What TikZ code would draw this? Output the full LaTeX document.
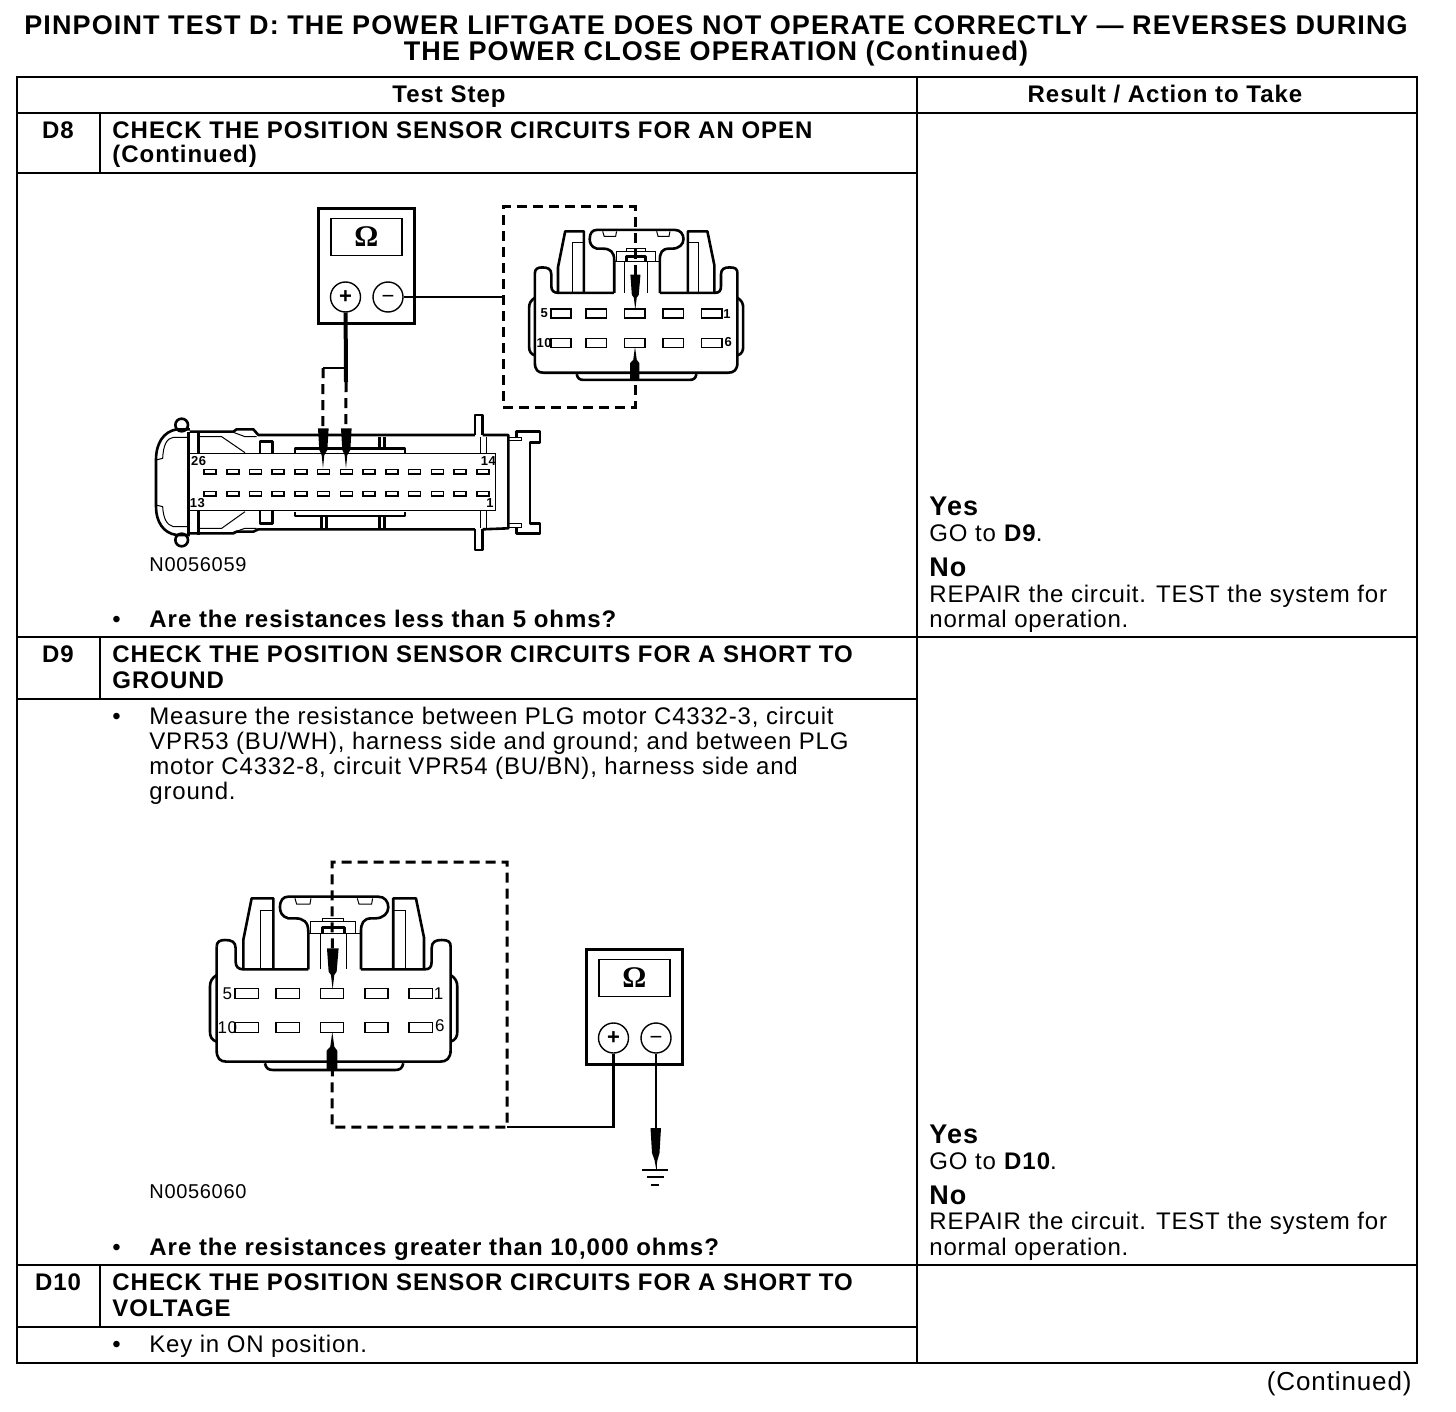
\documentclass[tikz,border=0pt]{standalone}
\usepackage{fontspec}
\setmainfont[LetterSpace=3.4,BoldFeatures={LetterSpace=4.1}]{Liberation Sans}
\newfontfamily\ohmfont{Liberation Serif}
\usetikzlibrary{positioning}

% Ohmmeter, local origin at its upper left corner
\newcommand{\ohmmeter}[1]{
    \node[meterbox] (#1) at (49.5,59) {};
    \node[meterdisp] (#1disp) at (49.5,30) {\ohmfont\bfseries\fontsize{15}{15}\selectfont Ω};
    \node[terminal] (#1pos) at (28.5,90) {\bfseries +};
    \node[terminal] (#1neg) at (71,90) {−};
}

% PLG motor connector, drawn in the coordinates of the zoomed print
\newcommand{\plgconn}[2]{
    % Body
    \draw[outline] (50,290) .. controls (50,275) and (60,270) .. (75,270) .. controls (95,270) and (107,275) .. (107,295)
        -- (107,335) .. controls (107,350) and (115,358) .. (130,358) -- (325,358);
    \draw[outline] (483,358) -- (675,358) .. controls (690,358) and (695,350) .. (695,335) -- (695,295)
        .. controls (695,275) and (707,270) .. (725,270) .. controls (745,270) and (752,275) .. (752,290)
        -- (752,600) .. controls (752,625) and (740,635) .. (720,635) -- (80,635)
        .. controls (60,635) and (50,625) .. (50,600) -- (50,290);
    % Side and bottom tabs
    \draw[outline] (50,375) .. controls (35,385) and (30,395) .. (30,410) -- (30,545) .. controls (30,560) and (35,570) .. (50,575);
    \draw[outline] (752,375) .. controls (767,385) and (772,395) .. (772,410) -- (772,545) .. controls (772,560) and (767,570) .. (752,575);
    \draw[outline] (195,640) .. controls (198,655) and (205,660) .. (220,660) -- (585,660) .. controls (600,660) and (607,655) .. (610,640);
    % Clips
    \draw[outline] (130,358) -- (130,270) -- (155,145) -- (220,145) -- (220,358);
    \draw[thinline] (182,358) -- (182,182) -- (220,182);
    \draw[outline] (580,358) -- (580,145) -- (648,145) -- (672,262) -- (672,358);
    \draw[thinline] (618,358) -- (618,182) -- (580,182);
    % Latch
    \draw[outline] (325,358) -- (325,245) .. controls (325,215) and (310,205) .. (285,205) -- (265,205)
        .. controls (245,200) and (240,185) .. (240,172) .. controls (240,150) and (250,140) .. (265,140)
        -- (535,140) .. controls (555,140) and (565,155) .. (565,172) .. controls (565,190) and (550,205) .. (525,205)
        -- (515,205) .. controls (490,205) and (483,220) .. (483,245) -- (483,358);
    \draw[thinline] (285,145) -- (290,162) -- (330,162) -- (333,145);
    \draw[thinline] (472,145) -- (477,162) -- (515,162) -- (518,145);
    \draw[thinline] (332,250) rectangle (468,215);
    \draw[thinline] (367,215) -- (367,205) -- (432,205) -- (432,215);
    \draw[outline] (367,250) -- (367,232) -- (433,232) -- (433,250);
    \draw[thinline] (362,250) -- (362,358) (440,250) -- (440,358);
    \draw[thinline] (328,250) -- (480,250);
    % Terminals
    \foreach \x in {140,263,396,530,663}
        \foreach \y in {430,532}
            \draw[slot] (\x-35,\y-15) rectangle (\x+35,\y+15);
    \node[pinlabel,font=#2] (#1five) at (82,430) {5};
    \node[pinlabel,font=#2] (#1one) at (716,430) {1};
    \node[pinlabel,font=#2] (#1ten) at (82,533) {10};
    \node[pinlabel,font=#2] (#1six) at (720,528) {6};
    % Probes
    \fill (381,295) -- (416,295) -- (410,365) -- (403,375) -- (398,418) -- (393,375) -- (386,365) -- cycle;
    \fill (397,545) -- (403,590) -- (412,602) -- (412,662) -- (380,662) -- (380,602) -- (391,590) -- cycle;
    \coordinate (#1top) at (397,295);
    \coordinate (#1bot) at (397,660);
}

\begin{document}
\begin{tikzpicture}[x=.5pt,y=-.5pt,
    meterbox/.style={draw,line width=1.5pt,minimum width=48pt,minimum height=57.5pt,inner sep=0pt},
    meterdisp/.style={draw,line width=.8pt,minimum width=35.5pt,minimum height=18.5pt,inner sep=0pt},
    terminal/.style={circle,draw,line width=.7pt,minimum size=15pt,inner sep=0pt,text height=.6em,text depth=0pt,font=\fontsize{11}{11}\selectfont},
    outline/.style={line width=1.3pt,line join=round},
    thinline/.style={line width=.5pt},
    slot/.style={line width=.8pt},
    wire/.style={line width=1.4pt},
    heavywire/.style={line width=2pt},
    dashwire/.style={line width=1.5pt,dash pattern=on 5pt off 3pt},
    pinlabel/.style={inner sep=0pt},
    tblline/.style={line width=1pt},
    txt/.style={anchor=base west,inner sep=0pt,font=\fontsize{12}{12}\selectfont},
    boldtxt/.style={txt,font=\bfseries\fontsize{12}{12}\selectfont},
    head/.style={anchor=base,inner sep=0pt,font=\bfseries\fontsize{12}{12}\selectfont},
    titletxt/.style={anchor=base,inner sep=0pt,font=\bfseries\fontsize{13.5}{13.5}\selectfont\addfontfeature{LetterSpace=3.2}},
    yesno/.style={anchor=base west,inner sep=0pt,font=\bfseries\fontsize{13.5}{13.5}\selectfont}]
    \useasboundingbox (0,0) rectangle (1456,1412);

    % Title
    \node[titletxt] (title1) at (716,35) {PINPOINT TEST D: THE POWER LIFTGATE DOES NOT OPERATE CORRECTLY — REVERSES DURING};
    \node[titletxt] (title2) at (716,61) {THE POWER CLOSE OPERATION (Continued)};

    % Table rules
    \draw[tblline] (17,77) rectangle (1417,1363);
    \draw[tblline] (917,77) -- (917,1363);
    \draw[tblline] (17,113) -- (1417,113);
    \draw[tblline] (17,637) -- (1417,637);
    \draw[tblline] (17,1265) -- (1417,1265);
    \draw[tblline] (17,173) -- (917,173);
    \draw[tblline] (17,699) -- (917,699);
    \draw[tblline] (17,1327) -- (917,1327);
    \draw[tblline] (100,113) -- (100,173);
    \draw[tblline] (100,637) -- (100,699);
    \draw[tblline] (100,1265) -- (100,1327);

    % Header
    \node[head] (hstep) at (449,103) {Test Step};
    \node[head] (hres) at (1165,103) {Result / Action to Take};

    % Step D8
    \node[head] (d8) at (58,139) {D8};
    \node[boldtxt] (d8a) at (112,139) {CHECK THE POSITION SENSOR CIRCUITS FOR AN OPEN};
    \node[boldtxt] (d8b) at (112,163) {(Continued)};
    \node[txt,font=\fontsize{10}{10}\selectfont] (d8id) at (149,571) {N0056059};
    \node[txt] (d8bul) at (112,627) {•};
    \node[boldtxt] (d8q) at (149,627) {Are the resistances less than 5 ohms?};
    \node[yesno] (d8yes) at (929,515) {Yes};
    \node[txt] (d8go) at (929,541) {GO to \textbf{D9}.};
    \node[yesno] (d8no) at (929,576) {No};
    \node[txt] (d8rep) at (929,602) {REPAIR the circuit. TEST the system for};
    \node[txt] (d8norm) at (929,627) {normal operation.};

    % Step D9
    \node[head] (d9) at (58,662) {D9};
    \node[boldtxt] (d9a) at (112,662) {CHECK THE POSITION SENSOR CIRCUITS FOR A SHORT TO};
    \node[boldtxt] (d9b) at (112,688) {GROUND};
    \node[txt] (d9bul) at (112,724) {•};
    \node[txt] (d9m1) at (149,724) {Measure the resistance between PLG motor C4332-3, circuit};
    \node[txt] (d9m2) at (149,749) {VPR53 (BU/WH), harness side and ground; and between PLG};
    \node[txt] (d9m3) at (149,774) {motor C4332-8, circuit VPR54 (BU/BN), harness side and};
    \node[txt] (d9m4) at (149,799) {ground.};
    \node[txt,font=\fontsize{10}{10}\selectfont] (d9id) at (149,1198) {N0056060};
    \node[txt] (d9bulb) at (112,1255) {•};
    \node[boldtxt] (d9q) at (149,1255) {Are the resistances greater than 10,000 ohms?};
    \node[yesno] (d9yes) at (929,1143) {Yes};
    \node[txt] (d9go) at (929,1169) {GO to \textbf{D10}.};
    \node[yesno] (d9no) at (929,1204) {No};
    \node[txt] (d9rep) at (929,1229) {REPAIR the circuit. TEST the system for};
    \node[txt] (d9norm) at (929,1255) {normal operation.};

    % Step D10
    \node[head] (d10) at (58,1290) {D10};
    \node[boldtxt] (d10a) at (112,1290) {CHECK THE POSITION SENSOR CIRCUITS FOR A SHORT TO};
    \node[boldtxt] (d10b) at (112,1316) {VOLTAGE};
    \node[txt] (d10bul) at (112,1352) {•};
    \node[txt] (d10k) at (149,1352) {Key in ON position.};
    \node[txt,anchor=base east,font=\fontsize{13}{13}\selectfont] (cont) at (1412,1390) {(Continued)};

    % D8 meter and motor connector
    \begin{scope}[shift={(317,207)}]
        \ohmmeter{ma}
    \end{scope}
    \begin{scope}[shift={(635,328)},scale=.2885,shift={(-397,-480)}]
        \plgconn{ca}{\bfseries\fontsize{6.5}{6.5}\selectfont}
    \end{scope}

    % D8 harness connector
    \begin{scope}[shift={(140,400)},scale=.3333]
        \draw[outline] (150,88) -- (110,88) .. controls (70,95) and (48,130) .. (48,180) -- (48,320)
            .. controls (48,365) and (70,400) .. (110,405) -- (150,405);
        \draw[thinline] (145,112) -- (100,112) .. controls (80,115) and (70,135) .. (68,175) -- (48,180);
        \draw[thinline] (145,380) -- (100,380) .. controls (80,375) and (70,355) .. (68,320) -- (48,315);
        \draw[outline] (125,75) circle (19);
        \draw[outline] (125,420) circle (19);
        \draw[outline] (145,95) -- (145,405) (175,95) -- (175,160) (175,332) -- (175,405);
        \draw[outline] (150,95) -- (280,95) -- (290,88) -- (340,88) -- (355,105) -- (1005,105);
        \draw[outline] (150,400) -- (280,400) -- (290,395) -- (340,395) -- (355,388) -- (1005,388);
        \draw[thinline] (175,110) -- (245,110) -- (315,158) (280,97) -- (315,110) -- (350,110);
        \draw[thinline] (175,385) -- (245,385) -- (315,335) (280,397) -- (315,385) -- (350,385);
        % Block and keys
        \draw[thinline] (145,160) -- (1068,160) -- (1068,332) -- (145,332);
        \draw[outline] (360,160) -- (360,125) -- (397,125) -- (397,160);
        \draw[outline] (465,160) -- (465,145) -- (795,145) -- (795,160);
        \draw[outline] (718,112) -- (718,145) (733,112) -- (733,145);
        \draw[outline] (360,332) -- (360,370) -- (397,370) -- (397,332);
        \draw[outline] (465,335) -- (465,348) -- (795,348) -- (795,335);
        \draw[outline] (545,348) -- (545,385) (560,348) -- (560,385) (718,348) -- (718,385) (733,348) -- (733,385);
        % Flange and end
        \draw[outline] (1005,105) -- (1005,45) -- (1028,45) -- (1028,105);
        \draw[outline] (1005,388) -- (1005,450) -- (1028,450) -- (1028,388);
        \draw[thinline] (1022,112) -- (1022,160) (1040,112) -- (1040,160) (1022,332) -- (1022,385) (1040,332) -- (1040,385);
        \draw[outline] (1028,105) -- (1105,105) -- (1105,385) -- (1028,388);
        \draw[outline] (1130,110) -- (1130,95) -- (1200,95) -- (1200,128) -- (1170,128) -- (1170,370) -- (1200,370) -- (1200,400) -- (1130,400) -- (1130,385);
        \draw[thinline] (1105,112) -- (1145,112) -- (1145,122) -- (1105,122);
        \draw[thinline] (1105,372) -- (1145,372) -- (1145,382) -- (1105,382);
        % Terminals
        \foreach \x in {0,...,12}
            \foreach \y in {215,281}
                \draw[slot] ({210+\x*68.2-18},\y-7) rectangle ({210+\x*68.2+18},\y+7);
        \node[pinlabel,font=\bfseries\fontsize{6.5}{6.5}\selectfont] (htwsix) at (176,182) {26};
        \node[pinlabel,font=\bfseries\fontsize{6.5}{6.5}\selectfont] (hfourteen) at (1045,182) {14};
        \node[pinlabel,font=\bfseries\fontsize{6.5}{6.5}\selectfont] (hthirteen) at (172,308) {13};
        \node[pinlabel,font=\bfseries\fontsize{6.5}{6.5}\selectfont] (hone) at (1050,308) {1};
        % Probes
        \fill (534,85) -- (566,85) -- (562,150) -- (553,165) -- (549,205) -- (545,165) -- (538,150) -- cycle;
        \fill (603,85) -- (635,85) -- (631,150) -- (622,165) -- (618,205) -- (614,165) -- (607,150) -- cycle;
        \coordinate (hfirst) at (549,85);
        \coordinate (hsecond) at (618,85);
    \end{scope}

    % D8 leads
    \coordinate (ajoin) at (346,368);
    \coordinate (abreak) at (346,382);
    \coordinate (ajog) at (323,368);
    \coordinate (atap) at (503,297);
    \coordinate (atl) at (503,207);
    \coordinate (abl) at (503,407);
    \draw[heavywire] (mapos) -- (abreak);
    \draw[dashwire] (abreak) -- (hsecond);
    \draw[wire] (ajoin) -- (ajoin -| ajog);
    \draw[dashwire] (ajog) -- (hfirst);
    \draw[wire] (maneg) -- (atap);
    \draw[dashwire] (catop) -- (catop |- atl) -- (atl) -- (abl) -- (abl -| cabot) -- (cabot);

    % D9 motor connector and meter
    \begin{scope}[shift={(332.3,1010)},scale=.3333,shift={(-397,-480)}]
        \plgconn{cb}{\fontsize{8.5}{8.5}\selectfont}
    \end{scope}
    \begin{scope}[shift={(585,948)}]
        \ohmmeter{mb}
    \end{scope}

    % D9 leads and ground
    \coordinate (btr) at (507,862);
    \coordinate (btl) at (332,862);
    \coordinate (bbr) at (507,1127);
    \coordinate (bbl) at (332,1127);
    \coordinate (gtop) at (656,1130);
    \coordinate (gnd) at (656,1170);
    \draw[dashwire] (cbtop) -- (btl) -- (btr) -- (bbr) -- (bbl) -- (cbbot);
    \draw[wire] (mbpos) -- (mbpos |- bbr) -- (bbr);
    \draw[wire] (mbneg) -- (gtop);
    \fill (650.5,1128) -- (661,1128) -- (659.5,1153) -- (657.5,1160) -- (656,1168) -- (654.5,1160) -- (652,1153) -- cycle;
    \draw[thinline] (gtop) -- (gnd);
    \draw[wire] (642,1170) -- (668,1170) (647,1177) -- (664,1177) (651,1185) -- (659,1185);
\end{tikzpicture}
\end{document}
